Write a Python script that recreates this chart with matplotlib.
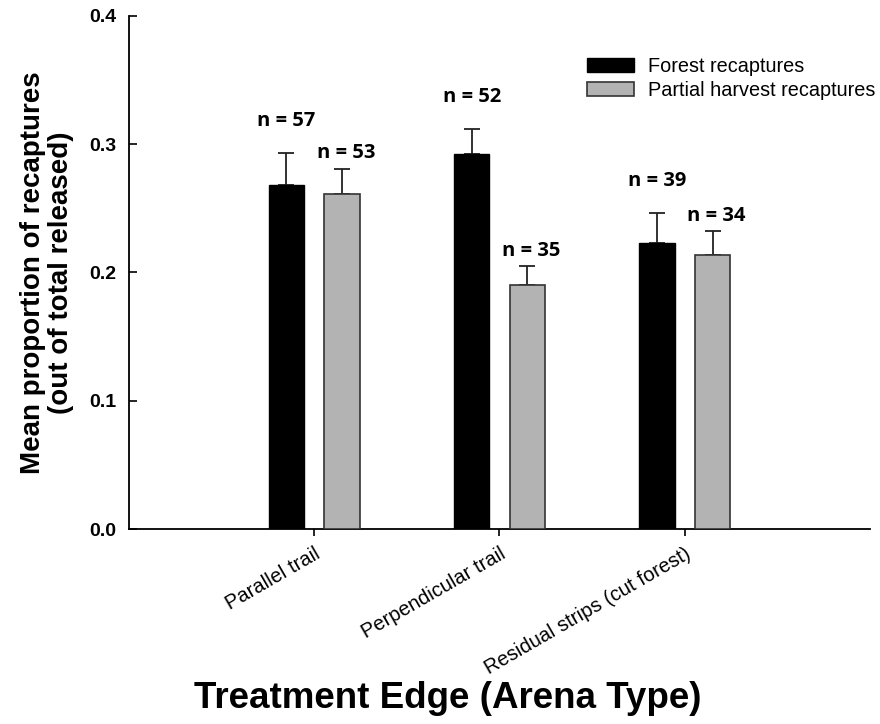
import numpy as np
import matplotlib
matplotlib.use('Agg')
import matplotlib.pyplot as plt
import matplotlib.transforms as mtransforms

categories = ['Parallel trail', 'Perpendicular trail', 'Residual strips (cut forest)']
series     = ['Forest recaptures', 'Partial harvest recaptures']
forest     = [0.268, 0.292, 0.223]
forest_se  = [0.025, 0.020, 0.023]
harvest    = [0.261, 0.190, 0.214]
harvest_se = [0.020, 0.015, 0.018]
forest_n   = [57, 52, 39]
harvest_n  = [53, 35, 34]

plt.rcParams['font.family'] = ['Liberation Sans', 'DejaVu Sans']

fig = plt.figure(figsize=(8.8, 7.24), dpi=100)
ax = fig.add_axes([0.1466, 0.2693, 0.8420, 0.7087])

x = np.arange(len(categories))
w = 0.19
off = 0.15

ax.bar(x - off, forest, w, color='black', edgecolor='black', linewidth=1.0,
       label=series[0], zorder=3)
ax.bar(x + off, harvest, w, color='#b3b3b3', edgecolor='#333333', linewidth=1.2,
       label=series[1], zorder=3)
ek = dict(ecolor='#222222', elinewidth=1.3, capsize=5.5, capthick=1.3, zorder=2)
ax.errorbar(x - off, forest, yerr=[np.zeros(3), forest_se], fmt='none', **ek)
ax.errorbar(x + off, harvest, yerr=[np.zeros(3), harvest_se], fmt='none', **ek)

nfont = dict(family=['Open Sans', 'DejaVu Sans'], fontsize=14.5, fontweight='bold',
             ha='center', va='center')
for i in range(len(categories)):
    ax.text(x[i] - off, forest[i] + forest_se[i] + 0.025, f'n = {forest_n[i]}', **nfont)
    ax.text(x[i] + off + 0.02, harvest[i] + harvest_se[i] + 0.012, f'n = {harvest_n[i]}', **nfont)

ax.set_xlim(-1, 3)
ax.set_ylim(0, 0.4)
ax.set_yticks([0.0, 0.1, 0.2, 0.3, 0.4])
ax.set_yticklabels(['0.0', '0.1', '0.2', '0.3', '0.4'], fontsize=14, fontweight='bold')
ax.set_xticks(x)
ax.set_xticklabels(categories, rotation=30, ha='right', rotation_mode='anchor',
                   fontsize=14.5)
shift = mtransforms.ScaledTranslation(6 / 100, 0, fig.dpi_scale_trans)
for lbl in ax.get_xticklabels():
    lbl.set_transform(lbl.get_transform() + shift)
ax.tick_params(axis='y', direction='in', length=6, width=1.2, pad=9)
ax.tick_params(axis='x', direction='out', length=5, width=1.2, pad=6)
for s in ['top', 'right']:
    ax.spines[s].set_visible(False)
for s in ['left', 'bottom']:
    ax.spines[s].set_linewidth(1.3)

ax.set_ylabel('Mean proportion of recaptures\n(out of total released)',
              fontsize=20, fontweight='bold', linespacing=1.1)
ax.yaxis.set_label_coords(-0.074, 0.5)
fig.text(0.509, 0.035, 'Treatment Edge (Arena Type)',
         fontsize=26.5, fontweight='bold', ha='center', va='center')

ax.legend(loc='upper left', bbox_to_anchor=(0.618, 0.92), frameon=False,
          fontsize=14.3, handlelength=2.36, handleheight=0.65, handletextpad=0.7,
          labelspacing=0.25, borderpad=0, borderaxespad=0)

plt.savefig('out.png', dpi=100)
